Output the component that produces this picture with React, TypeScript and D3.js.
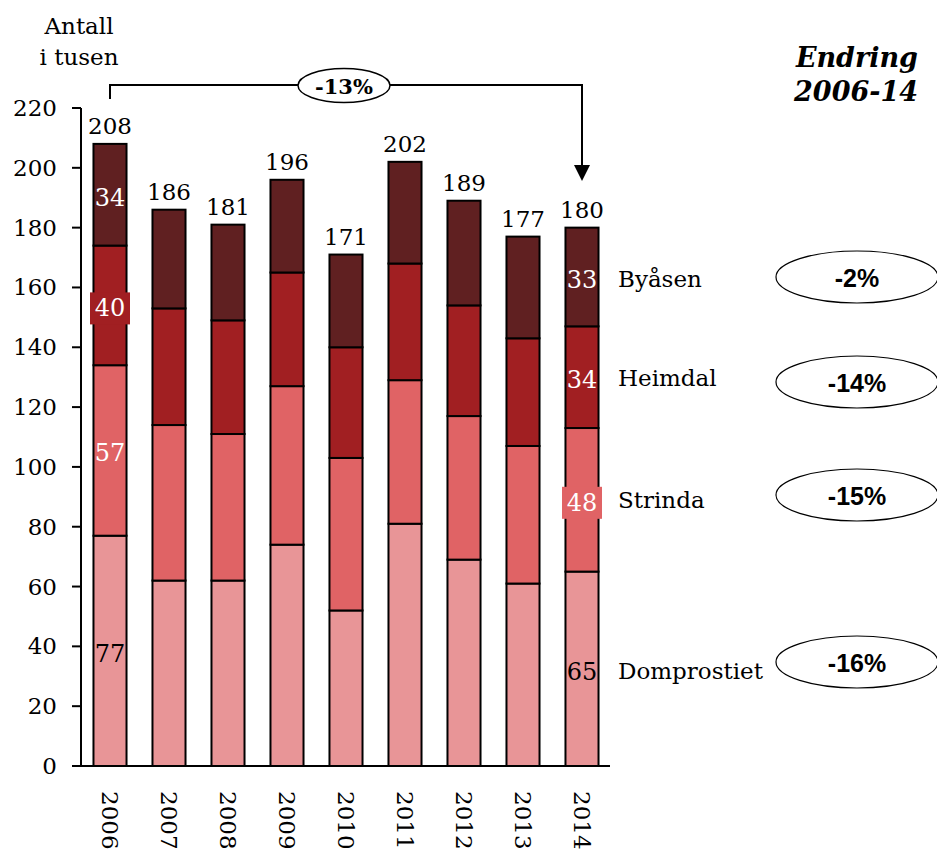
import React from "react";
import * as d3 from "d3";

const years = ["2006", "2007", "2008", "2009", "2010", "2011", "2012", "2013", "2014"];
const seriesNames = ["Domprostiet", "Strinda", "Heimdal", "Byåsen"];
const domprostiet = [77, 62, 62, 74, 52, 81, 69, 61, 65];
const strinda = [57, 52, 49, 53, 51, 48, 48, 46, 48];
const heimdal = [40, 39, 38, 38, 37, 39, 37, 36, 34];
const byasen = [34, 33, 32, 31, 31, 34, 35, 34, 33];
const totals = [208, 186, 181, 196, 171, 202, 189, 177, 180];
const changes = ["-16%", "-15%", "-14%", "-2%"];
const totalChange = "-13%";
const yTicks = [0, 20, 40, 60, 80, 100, 120, 140, 160, 180, 200, 220];
const colors = ["#E89597", "#E06365", "#A11F22", "#602021"];
const labelColors = ["#000", "#fff", "#fff", "#fff"];

const W = 937;
const H = 851;
const SERIF = "'DejaVu Serif', Georgia, serif";
const SANS = "'Liberation Sans', Arial, sans-serif";

export default function App() {
  const x = d3.scaleBand<string>().domain(years).range([80.5, 611.5]).paddingInner(0.44).paddingOuter(0.22);
  const y = d3.scaleLinear().domain([0, 220]).range([766, 108]);

  const table = years.map((yr, i) => ({
    year: yr,
    Domprostiet: domprostiet[i],
    Strinda: strinda[i],
    Heimdal: heimdal[i],
    "Byåsen": byasen[i],
  }));
  const stacked = d3.stack<any>().keys(seriesNames)(table);
  const seriesValues = [domprostiet, strinda, heimdal, byasen];

  const bw = x.bandwidth();
  const firstC = (x(years[0]) as number) + bw / 2;
  const lastIdx = years.length - 1;
  const lastC = (x(years[lastIdx]) as number) + bw / 2;

  const labelIdx = [0, lastIdx];
  const boxed: Record<string, boolean> = { "2-0": true, "1-8": true };

  const catLabelY = [679, 508, 386, 287];
  const ellipseY = [662, 495, 382, 277];

  return (
    <svg width={W} height={H} style={{ display: "block", position: "absolute", left: 0, top: 0 }}>
      <rect x={0} y={0} width={W} height={H} fill="#fff" />
      <text x={79} y={34} textAnchor="middle" fontFamily={SERIF} fontSize={23}>Antall</text>
      <text x={79} y={65} textAnchor="middle" fontFamily={SERIF} fontSize={23}>i tusen</text>

      {stacked.map((s, si) => (
        <g key={s.key}>
          {s.map((d, i) => (
            <rect
              key={i}
              x={x(years[i]) as number}
              y={y(d[1])}
              width={bw}
              height={y(d[0]) - y(d[1])}
              fill={colors[si]}
              stroke="#000"
              strokeWidth={2}
            />
          ))}
        </g>
      ))}

      {stacked.map((s, si) =>
        labelIdx.map((i) => {
          const d = s[i];
          const cx = (x(years[i]) as number) + bw / 2;
          const cy = y((d[0] + d[1]) / 2) + 3;
          const isBoxed = boxed[`${si}-${i}`];
          return (
            <g key={`${si}-${i}`}>
              {isBoxed && <rect x={cx - 20} y={cy - 16} width={40} height={32} fill={colors[si]} />}
              <text
                x={cx}
                y={cy}
                textAnchor="middle"
                dominantBaseline="central"
                fontFamily={SERIF}
                fontSize={24}
                fill={labelColors[si]}
              >
                {seriesValues[si][i]}
              </text>
            </g>
          );
        })
      )}

      {totals.map((t, i) => (
        <text
          key={i}
          x={(x(years[i]) as number) + bw / 2}
          y={y(t) - 10}
          textAnchor="middle"
          fontFamily={SERIF}
          fontSize={23}
        >
          {t}
        </text>
      ))}

      <line x1={81} x2={81} y1={y(220)} y2={y(0)} stroke="#000" strokeWidth={2} />
      {yTicks.map((t) => (
        <g key={t}>
          <line x1={72} x2={81} y1={y(t)} y2={y(t)} stroke="#000" strokeWidth={2} />
          <text x={57} y={y(t)} textAnchor="end" dominantBaseline="central" fontFamily={SERIF} fontSize={23}>
            {t}
          </text>
        </g>
      ))}
      <line x1={72} x2={610} y1={y(0)} y2={y(0)} stroke="#000" strokeWidth={2} />
      {years.map((yr) => {
        const cx = (x(yr) as number) + bw / 2;
        return (
          <text
            key={yr}
            transform={`translate(${cx},${791}) rotate(90)`}
            x={0}
            y={0}
            dominantBaseline="central"
            fontFamily={SERIF}
            fontSize={23}
          >
            {yr}
          </text>
        );
      })}

      <path
        d={`M${firstC},${99} V${85} H${lastC} V${166}`}
        fill="none"
        stroke="#000"
        strokeWidth={2}
      />
      <path d={`M${lastC - 8},${165} L${lastC + 8},${165} L${lastC},${181} Z`} fill="#000" />
      <ellipse cx={344} cy={85.5} rx={46} ry={17} fill="#fff" stroke="#000" strokeWidth={1.5} />
      <text x={344} y={86} textAnchor="middle" dominantBaseline="central" fontFamily={SERIF} fontWeight="bold" fontSize={21}>
        {totalChange}
      </text>

      <text x={918} y={67} textAnchor="end" fontFamily={SERIF} fontWeight="bold" fontStyle="italic" fontSize={27}>
        Endring
      </text>
      <text x={918} y={101} textAnchor="end" fontFamily={SERIF} fontWeight="bold" fontStyle="italic" fontSize={27}>
        2006-14
      </text>

      {seriesNames.map((n, si) => (
        <g key={n}>
          <text x={618} y={catLabelY[si]} fontFamily={SERIF} fontSize={23}>
            {n}
          </text>
          <ellipse cx={857} cy={ellipseY[si]} rx={81} ry={26} fill="#fff" stroke="#000" strokeWidth={1.2} />
          <text
            x={857}
            y={ellipseY[si] + 1}
            textAnchor="middle"
            dominantBaseline="central"
            fontFamily={SANS}
            fontWeight="bold"
            fontSize={25}
          >
            {changes[si]}
          </text>
        </g>
      ))}
    </svg>
  );
}
